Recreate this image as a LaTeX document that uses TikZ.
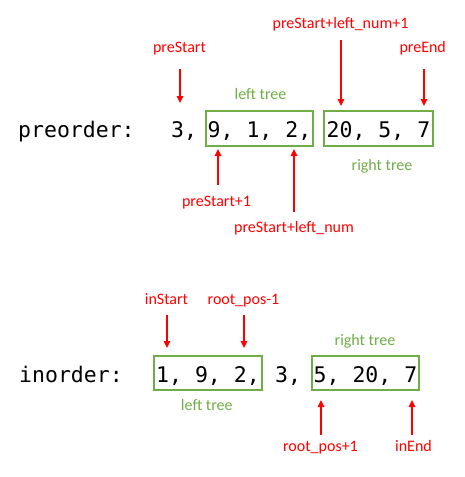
\documentclass[tikz,border=0pt]{standalone}
\usepackage{fontspec}
\setmainfont{Carlito}
\newfontfamily\codefont{DejaVu Sans Mono}
\usetikzlibrary{arrows.meta}
\definecolor{lblred}{HTML}{FF0000}
\definecolor{treegreen}{HTML}{70AD47}
\tikzset{
  code/.style={font=\codefont\fontsize{21.5}{24}\selectfont, inner sep=0pt, anchor=base west},
  lbl/.style={font=\fontsize{16}{19}\selectfont, text=lblred, inner sep=0pt, anchor=base},
  glbl/.style={font=\fontsize{16}{19}\selectfont, text=treegreen, inner sep=0pt, anchor=base},
  tbox/.style={draw=treegreen, line width=1.8pt, font=\codefont\fontsize{21.5}{24}\selectfont,
    inner sep=0pt, anchor=base, text height=26pt, text depth=9pt, align=center},
  arr/.style={draw=lblred, line width=1.3pt, -{Triangle[length=7pt,width=6.5pt]}}
}
\begin{document}
\begin{tikzpicture}[x=1pt,y=-1pt]
\useasboundingbox[fill=white] (0,0) rectangle (464,477);
% ---------- preorder ----------
\node[code] (prelab) at (18,137) {preorder:};
\node[code] (pre3) at (171,137) {3,};
\node[tbox, minimum width=107pt] (preL) at (259.5,137) {9, 1, 2,};
\node[tbox, minimum width=109pt] (preR) at (378.5,137) {20, 5, 7};
\node[glbl] (preLt) at (260.5,99) {left tree};
\node[glbl] (preRt) at (382,170) {right tree};
\node[lbl] (lpreStart) at (179.5,52) {preStart};
\node[lbl] (lpreLN1) at (340.5,28.5) {preStart+left\_num+1};
\node[lbl] (lpreEnd) at (422.7,52) {preEnd};
\node[lbl] (lpreS1) at (216.5,206) {preStart+1};
\node[lbl] (lpreLN) at (294,232.5) {preStart+left\_num};
\coordinate (a1s) at (180,69);  \coordinate (a1e) at (180,103);
\coordinate (a2s) at (341,40);  \coordinate (a2e) at (341,106);
\coordinate (a3s) at (424,69);  \coordinate (a3e) at (424,106);
\coordinate (a4s) at (218,185); \coordinate (a4e) at (218,149);
\coordinate (a5s) at (294,212); \coordinate (a5e) at (294,149);
\draw[arr] (a1s) -- (a1e);
\draw[arr] (a2s) -- (a2e);
\draw[arr] (a3s) -- (a3e);
\draw[arr] (a4s) -- (a4e);
\draw[arr] (a5s) -- (a5e);
% ---------- inorder ----------
\node[code] (inlab) at (19,382) {inorder:};
\node[code] (in3) at (275,382) {3,};
\node[tbox, minimum width=108pt, text depth=8pt] (inL) at (208,382) {1, 9, 2,};
\node[tbox, minimum width=107pt, text depth=8pt] (inR) at (365.5,382) {5, 20, 7};
\node[glbl] (inRt) at (365,345.5) {right tree};
\node[glbl] (inLt) at (206.8,410.5) {left tree};
\node[lbl] (linStart) at (166.5,304) {inStart};
\node[lbl] (lrootm1) at (243.5,304) {root\_pos-1};
\node[lbl] (lrootp1) at (320.5,451) {root\_pos+1};
\node[lbl] (linEnd) at (413.5,451) {inEnd};
\coordinate (b1s) at (167,315); \coordinate (b1e) at (167,348);
\coordinate (b2s) at (244,315); \coordinate (b2e) at (244,348);
\coordinate (b3s) at (321,435); \coordinate (b3e) at (321,400);
\coordinate (b4s) at (412,435); \coordinate (b4e) at (412,400);
\draw[arr] (b1s) -- (b1e);
\draw[arr] (b2s) -- (b2e);
\draw[arr] (b3s) -- (b3e);
\draw[arr] (b4s) -- (b4e);
\end{tikzpicture}
\end{document}
